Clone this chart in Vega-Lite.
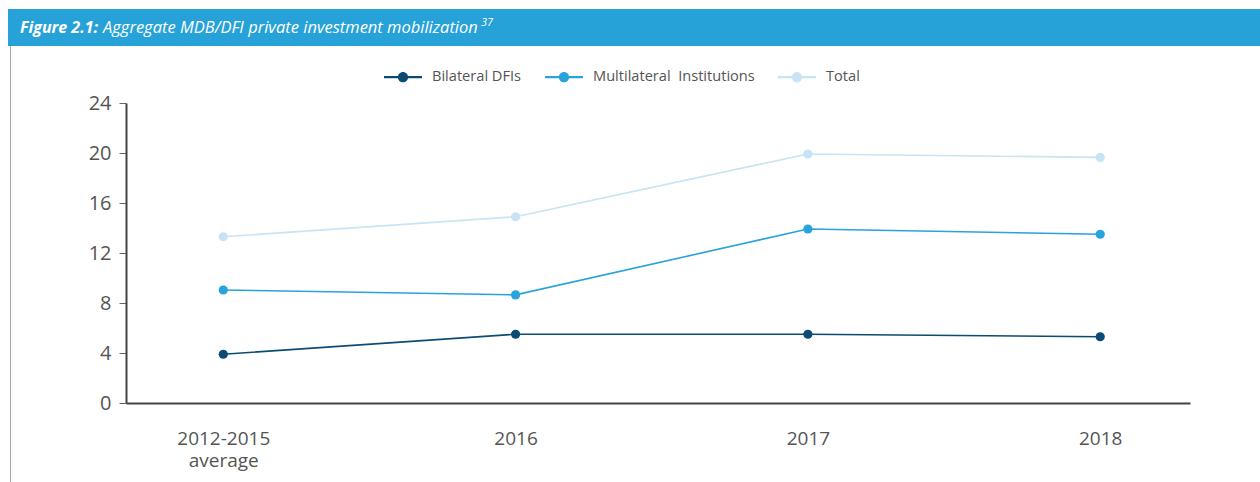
{
  "$schema": "https://vega.github.io/schema/vega-lite/v6.json",
  "background": "white",
  "padding": {"left": 6, "top": 9, "right": 0, "bottom": 0},
  "columns": 5,
  "spacing": 0,
  "bounds": "flush",
  "align": "each",
  "config": {"view": {"stroke": null}, "font": "Open Sans"},
  "datasets": {
    "series": [
      {"period": "2012-2015 average", "series": "Bilateral DFIs", "value": 3.9},
      {"period": "2016", "series": "Bilateral DFIs", "value": 5.5},
      {"period": "2017", "series": "Bilateral DFIs", "value": 5.5},
      {"period": "2018", "series": "Bilateral DFIs", "value": 5.3},
      {"period": "2012-2015 average", "series": "Multilateral\u00a0 Institutions", "value": 9.04},
      {"period": "2016", "series": "Multilateral\u00a0 Institutions", "value": 8.65},
      {"period": "2017", "series": "Multilateral\u00a0 Institutions", "value": 13.92},
      {"period": "2018", "series": "Multilateral\u00a0 Institutions", "value": 13.5},
      {"period": "2012-2015 average", "series": "Total", "value": 13.3},
      {"period": "2016", "series": "Total", "value": 14.9},
      {"period": "2017", "series": "Total", "value": 19.92},
      {"period": "2018", "series": "Total", "value": 19.65}
    ],
    "blank": [{"k": 1}]
  },
  "concat": [
    {
      "width": 2, "height": 37,
      "view": {"fill": "#27a2d8", "stroke": null},
      "data": {"name": "blank"},
      "mark": {"type": "point", "opacity": 0}
    },
    {
      "width": 1, "height": 37,
      "view": {"fill": "#27a2d8", "stroke": null},
      "data": {"name": "blank"},
      "mark": {"type": "point", "opacity": 0}
    },
    {
      "width": 115, "height": 37,
      "view": {"fill": "#27a2d8", "stroke": null},
      "data": {"name": "blank"},
      "mark": {"type": "point", "opacity": 0},
      "title": {"text": "Figure 2.1:", "orient": "top", "anchor": "start", "frame": "group", "offset": -40, "baseline": "alphabetic", "dx": 9, "font": "Open Sans", "fontSize": 16, "fontWeight": "bold", "fontStyle": "italic", "color": "white"}
    },
    {
      "width": 1064, "height": 37,
      "view": {"fill": "#27a2d8", "stroke": null},
      "data": {"name": "blank"},
      "mark": {"type": "point", "opacity": 0},
      "title": {"text": "Aggregate MDB/DFI private investment mobilization", "orient": "top", "anchor": "start", "frame": "group", "offset": -40.5, "baseline": "alphabetic", "dx": -23, "font": "Open Sans", "fontSize": 16.5, "fontWeight": "normal", "fontStyle": "italic", "color": "white"}
    },
    {
      "width": 70, "height": 37,
      "view": {"fill": "#27a2d8", "stroke": null},
      "data": {"name": "blank"},
      "mark": {"type": "point", "opacity": 0},
      "title": {"text": "37", "orient": "top", "anchor": "start", "frame": "group", "offset": -28, "baseline": "alphabetic", "dx": -709, "font": "Open Sans", "fontSize": 11, "fontWeight": "normal", "fontStyle": "italic", "color": "white"}
    },
    {
      "width": 2, "height": 57,
      "data": {"name": "blank"},
      "mark": {"type": "point", "opacity": 0}
    },
    {
      "width": 1, "height": 57,
      "view": {"fill": "#a6a6a6", "stroke": null},
      "data": {"name": "blank"},
      "mark": {"type": "point", "opacity": 0}
    },
    {
      "width": 115, "height": 57,
      "data": {"name": "blank"},
      "mark": {"type": "point", "opacity": 0}
    },
    {
      "width": 1064, "height": 57,
      "data": {"name": "blank"},
      "mark": {"type": "point", "opacity": 0}
    },
    {
      "width": 70, "height": 57,
      "data": {"name": "blank"},
      "mark": {"type": "point", "opacity": 0}
    },
    {
      "width": 2, "height": 379,
      "data": {"name": "blank"},
      "mark": {"type": "point", "opacity": 0}
    },
    {
      "width": 1, "height": 379,
      "view": {"fill": "#a6a6a6", "stroke": null},
      "data": {"name": "blank"},
      "mark": {"type": "point", "opacity": 0}
    },
    {
      "width": 115, "height": 300,
      "data": {"name": "blank"},
      "mark": {"type": "point", "opacity": 0}
    },
    {
      "width": 1064, "height": 300,
      "data": {"name": "series"},
      "mark": {"type": "line", "strokeWidth": 1.6, "point": {"filled": true, "size": 85, "opacity": 1}},
      "encoding": {
        "x": {
          "field": "period", "type": "ordinal",
          "sort": ["2012-2015 average", "2016", "2017", "2018"],
          "scale": {"type": "point", "padding": 0.32, "align": 0.52},
          "axis": {"title": null, "grid": false, "labelExpr": "split(datum.label, ' ')", "labelAngle": 0, "ticks": false, "labelPadding": 26, "labelFontSize": 19, "labelColor": "#555555", "labelLineHeight": 22, "domainColor": "#444444", "domainWidth": 2}
        },
        "y": {
          "field": "value", "type": "quantitative",
          "scale": {"domain": [0, 24], "nice": false},
          "axis": {"title": null, "grid": false, "values": [0, 4, 8, 12, 16, 20, 24], "domainColor": "#444444", "domainWidth": 2, "tickColor": "#666666", "tickSize": 7, "labelPadding": 8, "labelFontSize": 20, "labelColor": "#555555"}
        },
        "color": {
          "field": "series", "type": "nominal",
          "scale": {"domain": ["Bilateral DFIs", "Multilateral\u00a0 Institutions", "Total"], "range": ["#0c4c74", "#29a3db", "#c8e4f4"]},
          "legend": {
            "title": null, "orient": "none", "legendX": 365, "legendY": 38, "direction": "horizontal", "padding": 11,
            "symbolType": "M-1,-0.06L1,-0.06L1,0.06L-1,0.06Z M0.27,0A0.27,0.27 0 1,1 -0.27,0A0.27,0.27 0 1,1 0.27,0Z",
            "symbolSize": 1444, "symbolStrokeWidth": 0,
            "labelFontSize": 14.6, "labelColor": "#555555", "labelOffset": 10, "columnPadding": 23, "labelLimit": 400,
            "encode": {"symbols": {"update": {"fill": {"scale": "color", "field": "value"}, "opacity": {"value": 1}}}}
          }
        }
      }
    },
    {
      "width": 70, "height": 300,
      "data": {"name": "blank"},
      "mark": {"type": "point", "opacity": 0}
    }
  ]
}
